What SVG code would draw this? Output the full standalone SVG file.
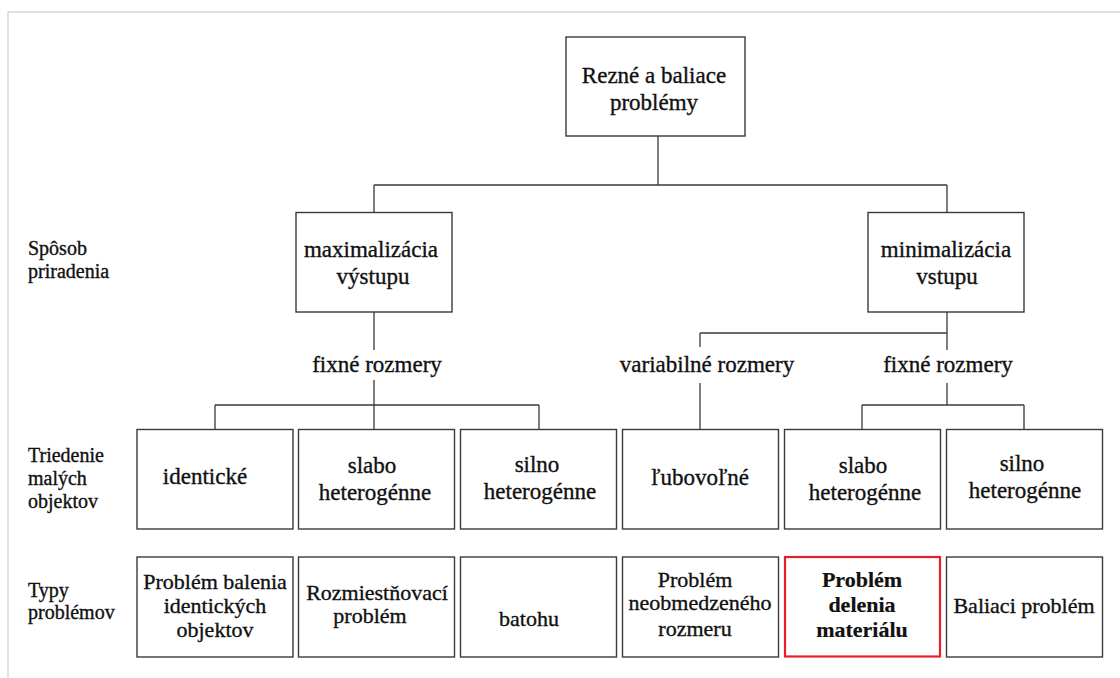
<svg xmlns="http://www.w3.org/2000/svg" width="1120" height="678" viewBox="0 0 1120 678">
<style>
.box{fill:#fff;stroke:#3a3a3a;stroke-width:1.4}
.red{fill:#fff;stroke:#e5202b;stroke-width:2.2}
.ln{stroke:#3a3a3a;stroke-width:1.3;fill:none}
text{font-family:"Liberation Serif","Times New Roman",serif;font-weight:400;fill:#111;stroke:#111;stroke-width:0.35}
.t{font-size:23px;text-anchor:middle}
.s{font-size:22px;text-anchor:middle}
.b{font-weight:700;stroke-width:0.2}
.lab{font-size:20px}
</style>
<rect width="1120" height="678" fill="#fff"/>
<path d="M8 678 V12 H1120" stroke="#d8d8d8" stroke-width="1.5" fill="none"/>

<g id="connectors">
<path class="ln" d="M658 136 V185 M374 185 H947 M374 185 V212 M947 185 V212"/>
<path class="ln" d="M374 312 V350 M374 380 V429 M215 405 H539 M215 405 V429 M539 405 V429"/>
<path class="ln" d="M947 312 V350 M700 333 H947 M700 333 V347 M700 383 V429 M947 383 V405 M862 405 H1024 M862 405 V429 M1024 405 V429"/>
</g>

<g id="labels">
<text class="lab" x="28" y="255">Spôsob</text>
<text class="lab" x="28" y="278">priradenia</text>
<text class="lab" x="28" y="462">Triedenie</text>
<text class="lab" x="28" y="485">malých</text>
<text class="lab" x="28" y="508">objektov</text>
<text class="lab" x="28" y="597">Typy</text>
<text class="lab" x="28" y="619">problémov</text>
</g>

<g id="root">
<rect class="box" x="566" y="37" width="179" height="99"/>
<text class="t" x="654" y="83">Rezné a baliace</text>
<text class="t" x="654" y="110">problémy</text>
</g>

<g id="max">
<rect class="box" x="296" y="212.5" width="156" height="99.5"/>
<text class="t" x="371" y="257">maximalizácia</text>
<text class="t" x="373" y="284">výstupu</text>
</g>

<g id="min">
<rect class="box" x="868" y="212.5" width="156" height="99.5"/>
<text class="t" x="946" y="257">minimalizácia</text>
<text class="t" x="947" y="284">vstupu</text>
</g>

<g id="fix-left"><text class="t" x="377" y="372">fixné rozmery</text></g>
<g id="var"><text class="t" x="707" y="372">variabilné rozmery</text></g>
<g id="fix-right"><text class="t" x="948" y="372">fixné rozmery</text></g>

<g id="r1-1">
<rect class="box" x="137" y="429.5" width="156" height="99.5"/>
<text class="t" x="205" y="484">identické</text>
</g>
<g id="r1-2">
<rect class="box" x="298.5" y="429.5" width="156" height="99.5"/>
<text class="t" x="372" y="473">slabo</text>
<text class="t" x="375" y="500">heterogénne</text>
</g>
<g id="r1-3">
<rect class="box" x="460.5" y="429.5" width="156" height="99.5"/>
<text class="t" x="537" y="472">silno</text>
<text class="t" x="540" y="499">heterogénne</text>
</g>
<g id="r1-4">
<rect class="box" x="622.5" y="429.5" width="156" height="99.5"/>
<text class="t" x="700" y="485">ľubovoľné</text>
</g>
<g id="r1-5">
<rect class="box" x="784.5" y="429.5" width="156" height="99.5"/>
<text class="t" x="863" y="473">slabo</text>
<text class="t" x="865" y="500">heterogénne</text>
</g>
<g id="r1-6">
<rect class="box" x="946.5" y="429.5" width="156" height="99.5"/>
<text class="t" x="1022" y="471">silno</text>
<text class="t" x="1025" y="498">heterogénne</text>
</g>

<g id="r2-1">
<rect class="box" x="137" y="557" width="156" height="100"/>
<text class="s" x="215" y="589">Problém balenia</text>
<text class="s" x="215" y="613">identických</text>
<text class="s" x="215" y="637">objektov</text>
</g>
<g id="r2-2">
<rect class="box" x="298.5" y="557" width="156" height="100"/>
<text class="s" x="377" y="600">Rozmiestňovací</text>
<text class="s" x="370" y="623">problém</text>
</g>
<g id="r2-3">
<rect class="box" x="460.5" y="557" width="156" height="100"/>
<text class="s" x="529" y="626">batohu</text>
</g>
<g id="r2-4">
<rect class="box" x="622.5" y="557" width="156" height="100"/>
<text class="s" x="695" y="587">Problém</text>
<text class="s" x="700" y="610">neobmedzeného</text>
<text class="s" x="695" y="636">rozmeru</text>
</g>
<g id="r2-5">
<rect class="red" x="785" y="557" width="155" height="99.5"/>
<text class="s b" x="862" y="587">Problém</text>
<text class="s b" x="862" y="612">delenia</text>
<text class="s b" x="862" y="637">materiálu</text>
</g>
<g id="r2-6">
<rect class="box" x="946.5" y="557" width="156" height="100"/>
<text class="s" x="1024" y="613">Baliaci problém</text>
</g>
</svg>
